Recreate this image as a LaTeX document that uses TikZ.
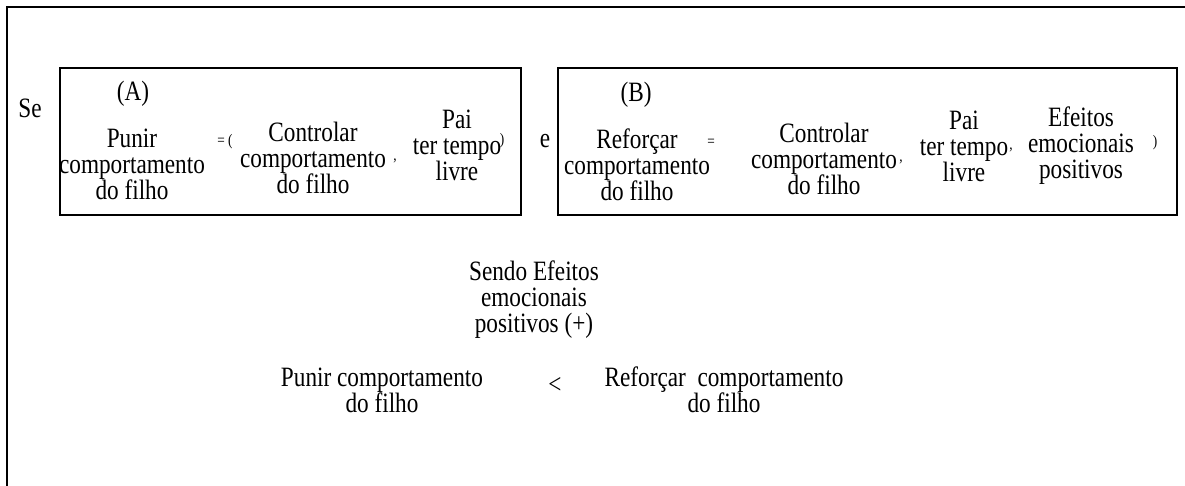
\documentclass[tikz,border=0pt]{standalone}
\usepackage{fontspec}
\setmainfont{Liberation Serif}[FakeStretch=0.83]
\begin{document}
\begin{tikzpicture}[x=0.5pt,y=-0.5pt,
  txt/.style={font=\fontsize{14}{13}\selectfont, align=center, inner sep=0pt},
  sm/.style={font=\fontsize{8}{9}\selectfont, inner sep=0pt},
  frame/.style={line width=1pt, draw=black},
  boxline/.style={line width=1.1pt, draw=black}]
\useasboundingbox (0,0) rectangle (1185,486);
% outer frame (open on right and bottom)
\draw[frame] (7,486) -- (7,7) -- (1185,7);
% boxes
\draw[boxline] (60,68) rectangle (521,215);
\draw[boxline] (558,68) rectangle (1177,215);
% left
\node[txt] (se) at (30,108) {Se};
\node[txt] (la) at (133,94) {(A)};
\node[txt] (a1) at (132,164) {Punir\\comportamento\\do filho};
\node[sm] (a2) at (225,142) {= (};
\node[txt] (a3) at (313,158) {Controlar\\comportamento\\do filho};
\node[sm] (a4) at (395,161) {,};
\node[txt] (a5) at (457,145) {Pai\\ter tempo\\livre};
\node[sm] (a6) at (502,141) {)};
\node[txt] (e) at (545,141) {e};
% right box
\node[txt] (lb) at (636,95) {(B)};
\node[txt] (b1) at (637,165) {Reforçar\\comportamento\\do filho};
\node[sm] (b2) at (711,143) {=};
\node[txt] (b3) at (824,159) {Controlar\\comportamento\\do filho};
\node[sm] (b4) at (901,162) {,};
\node[txt] (b5) at (964,146) {Pai\\ter tempo\\livre};
\node[sm] (b6) at (1011,150) {,};
\node[txt] (b7) at (1081,146) {Efeitos\\emocionais\\positivos};
\node[sm] (b8) at (1155,143) {)};
% bottom
\node[txt] (s) at (534,300) {Sendo Efeitos\\emocionais\\positivos (+)};
\node[txt] (p) at (382,390) {Punir comportamento\\do filho};
\node[txt] (lt) at (555,385) {<};
\node[txt] (r) at (724,390) {Reforçar~ comportamento\\do filho};
\end{tikzpicture}
\end{document}
